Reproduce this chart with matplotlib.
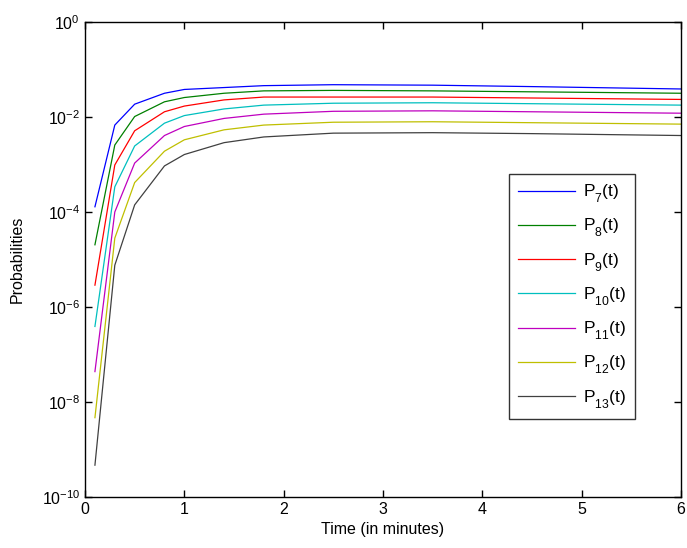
import matplotlib
matplotlib.use("Agg")
import matplotlib.pyplot as plt
import numpy as np
import matplotlib._mathtext as _mt

plt.rcParams['font.family'] = ['Liberation Sans', 'DejaVu Sans']
plt.rcParams['mathtext.fontset'] = 'custom'
plt.rcParams['mathtext.rm'] = 'Liberation Sans'
plt.rcParams['mathtext.it'] = 'Liberation Sans'
plt.rcParams['axes.unicode_minus'] = False
try:
    _mt.FontConstantsBase.sub1 = 0.7
    _mt.FontConstantsBase.sub2 = 0.8
except Exception:
    pass

t = [0.1, 0.3, 0.5, 0.8, 1.0, 1.4, 1.8, 2.5, 3.5, 4.5, 6.0]
# log10 of probabilities
logP7 = [-3.89, -2.17, -1.73, -1.50, -1.42, -1.38, -1.34, -1.32, -1.33, -1.36, -1.41]
logP8 = [-4.69, -2.59, -1.99, -1.68, -1.59, -1.50, -1.45, -1.44, -1.45, -1.47, -1.50]
logP9 = [-5.54, -3.01, -2.29, -1.89, -1.77, -1.64, -1.58, -1.58, -1.58, -1.60, -1.63]
logP10 = [-6.41, -3.47, -2.61, -2.13, -1.97, -1.83, -1.75, -1.71, -1.70, -1.72, -1.75]
logP11 = [-7.36, -4.00, -2.97, -2.39, -2.20, -2.03, -1.94, -1.88, -1.87, -1.89, -1.92]
logP12 = [-8.33, -4.55, -3.38, -2.72, -2.48, -2.27, -2.17, -2.11, -2.10, -2.12, -2.15]
logP13 = [-9.33, -5.12, -3.85, -3.03, -2.79, -2.54, -2.42, -2.34, -2.33, -2.35, -2.39]

series = [logP7, logP8, logP9, logP10, logP11, logP12, logP13]
labels = [r'P$_{7}$(t)', r'P$_{8}$(t)', r'P$_{9}$(t)', r'P$_{10}$(t)',
          r'P$_{11}$(t)', r'P$_{12}$(t)', r'P$_{13}$(t)']
colors = [(0, 0, 1), (0, 0.5, 0), (1, 0, 0), (0, 0.75, 0.75),
          (0.75, 0, 0.75), (0.75, 0.75, 0), (0.25, 0.25, 0.25)]

fig = plt.figure(figsize=(6.87, 5.48), dpi=100)
ax = fig.add_axes([85/687, 1-497/548, 596/687, 475/548])

for s, lab, c in zip(series, labels, colors):
    ax.semilogy(t, 10.0**np.array(s), color=c, lw=0.9, label=lab)

ax.set_xlim(0, 6)
ax.set_ylim(1e-10, 1e0)
ax.set_yticks([1e-10, 1e-8, 1e-6, 1e-4, 1e-2, 1e0])
ax.yaxis.set_minor_locator(matplotlib.ticker.NullLocator())
ax.set_xticks(range(7))
ax.tick_params(which='both', direction='in', top=True, right=True, labelsize=11.5, length=5, width=1)
for sp in ax.spines.values():
    sp.set_linewidth(1.0)
ax.set_xlabel('Time (in minutes)', fontsize=11.5, labelpad=4)
ax.set_ylabel('Probabilities', fontsize=11.5, labelpad=12)

leg = ax.legend(loc='upper left', bbox_to_anchor=((509-85)/596, (497-174)/475),
                fontsize=12.5, frameon=True, fancybox=False, edgecolor='black',
                borderpad=0.5, labelspacing=0.69, handlelength=3.3, handletextpad=0.45,
                borderaxespad=0)
leg.get_frame().set_linewidth(1.0)

fig.savefig('out.png', dpi=100)
